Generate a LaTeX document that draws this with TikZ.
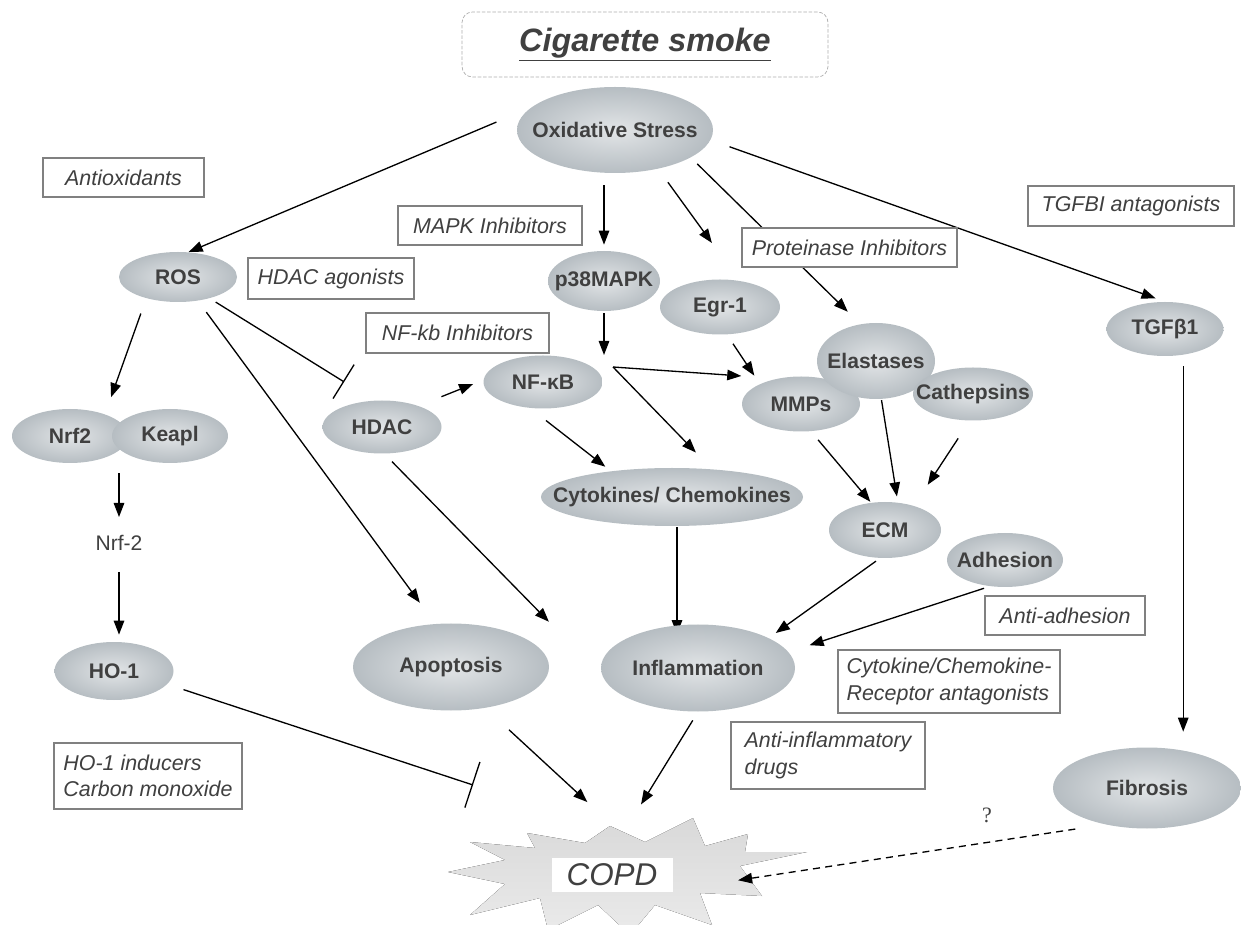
\documentclass[tikz,border=0pt]{standalone}
\usepackage{fontspec}
\setmainfont{Liberation Sans}
\newfontfamily\qfont{Liberation Serif}
\usetikzlibrary{arrows.meta,shapes.geometric,backgrounds}
\definecolor{molgrey}{RGB}{182,189,194}
\definecolor{mollight}{RGB}{226,229,231}
\definecolor{txtgrey}{RGB}{64,64,64}
\definecolor{boxline}{RGB}{128,128,128}
\tikzset{>={Triangle[length=8pt,width=6pt]}}
\tikzset{
  mol/.style={ellipse,inner sep=0pt,inner color=mollight,outer color=molgrey,
    font=\fontsize{12}{14}\selectfont\bfseries,text=txtgrey,
    execute at begin node={\hbox to 0pt\bgroup\hss},
    execute at end node={\hss\egroup}},
  sz/.style 2 args={minimum width=#1*0.02cm,minimum height=#2*0.02cm},
  drug/.style={draw=boxline,line width=0.6pt,fill=white,inner sep=0pt,
    font=\fontsize{12.2}{15}\selectfont\itshape,text=txtgrey,align=left},
  link/.style={line width=0.75pt,->},
  block/.style={line width=0.75pt,-{Bar[width=#1]}}
}
\begin{document}
\begin{tikzpicture}[x=0.02cm,y=-0.02cm]
\useasboundingbox (0,0) rectangle (1241,925);

% source
\node[draw=gray!65,dash pattern=on 2pt off 1pt,rounded corners=6pt,sz={366}{65},
  font=\fontsize{18.4}{22}\selectfont\bfseries\itshape,text=txtgrey] (smoke) at (645,44.5) {\underline{Cigarette smoke}};
\node[mol,sz={196}{86}] (ox) at (615,130) {Oxidative Stress};

% molecules
\node[mol,sz={118}{50}] (ros) at (178,277) {ROS};
\node[mol,sz={112}{60}] (p38) at (604,281) {p38MAPK};
\node[mol,sz={120}{55}] (egr) at (720,307) {Egr-1};
\node[mol,sz={117}{54}] (tgf) at (1165,329) {TGFβ1};
\node[mol,sz={119}{53}] (nfkb) at (543,382) {NF-κB};
\node[mol,sz={118}{55}] (mmp) at (801,404) {MMPs};
\node[mol,sz={118}{76}] (ela) at (876,361) {Elastases};
\node[mol,sz={120}{53}] (cat) at (973,394) {Cathepsins};
\node[mol,sz={116}{54}] (nrf) at (70,436) {Nrf2};
\node[mol,sz={116}{54}] (keap) at (170,436) {Keapl};
\node[mol,sz={119}{53}] (hdac) at (382,427) {HDAC};
\node[mol,sz={262}{58}] (cyto) at (672,497) {Cytokines/ Chemokines};
\node[mol,sz={112}{56}] (ecm) at (885,530) {ECM};
\node[mol,sz={116}{54}] (adh) at (1005,560) {Adhesion};
\node[font=\fontsize{12}{14}\selectfont,text=txtgrey,inner sep=0pt] (nrftxt) at (119,543) {Nrf-2};
\node[mol,sz={119}{58}] (ho) at (114,671) {HO-1};
\node[mol,sz={196}{87}] (apo) at (451,667) {Apoptosis};
\node[mol,sz={194}{87}] (inf) at (698,668) {Inflammation};
\node[mol,sz={188}{81}] (fib) at (1147,788) {Fibrosis};

% drugs
\node[drug,sz={161}{39}] (antiox) at (123.5,177.5) {Antioxidants};
\node[drug,sz={184}{39}] (mapkinh) at (490,225.5) {MAPK Inhibitors};
\node[drug,sz={206}{40}] (tgfant) at (1131,206) {TGFBI antagonists};
\node[drug,sz={215}{39}] (protinh) at (849.5,247.5) {Proteinase Inhibitors};
\node[drug,sz={166}{41}] (hdacag) at (331,278.5) {HDAC agonists};
\node[drug,sz={183}{40}] (nfkbinh) at (457.5,333) {NF-kb Inhibitors};
\node[drug,sz={160}{39}] (antiadh) at (1065,615.5) {Anti-adhesion};
\node[drug,sz={222}{63}] (cytant) at (949,681.5) {Cytokine/Chemokine-\\Receptor antagonists};
\node[drug,sz={194}{67}] (antiinf) at (828,755.5) {Anti-inflammatory\\drugs};
\node[drug,sz={188}{66}] (hoind) at (148,776) {HO-1 inducers\\Carbon monoxide};

% outcome
\node[fill=white,sz={121}{34},inner sep=0pt,font=\fontsize{17.9}{20}\selectfont\itshape,text=txtgrey] (copd) at (612,875) {COPD};
\node[font=\qfont\fontsize{12.5}{14}\selectfont,text=txtgrey] (qm) at (987,815) {?};

\coordinate (jn) at (613,367);
\coordinate (hoend) at (473,785);

\begin{scope}[on background layer]
\fill[top color=gray!30,middle color=gray!8,bottom color=gray!16]
  (807,852) -- (740,866) -- (762,896) -- (700,893) -- (712,925) -- (655,905)
  -- (630,935) -- (598,905) -- (548,930) -- (540,898) -- (470,915) -- (505,884)
  -- (448,872) -- (505,860) -- (470,842) -- (535,848) -- (527,833) -- (585,843)
  -- (610,826) -- (645,842) -- (693,818) -- (705,846) -- (748,834) -- (745,852) -- cycle;

\draw[link,shorten <=7.5mm] (ox.165) -- (ros.67);
\draw[link,shorten <=2.4mm,shorten >=1.2mm] (ox.south -| p38) -- (p38.north);
\draw[link,shorten <=3.3mm,shorten >=9.3mm] (ox.-42) -- (egr.54);
\draw[link,shorten <=1.8mm,shorten >=3.5mm] (ox.-20) -- (ela.113);
\draw[link,shorten <=4mm,shorten >=2mm] (ox.-6) -- (tgf.north);
\draw[link,shorten <=3.2mm,shorten >=3.6mm] (ros.-146) -- (nrf.32);
\draw[link,shorten <=2.8mm,shorten >=5.2mm] (ros.-50) -- (apo.110);
\draw[block=8mm,shorten <=1.4mm,shorten >=7mm] (ros.-34) -- (hdac.107);
\draw[link,shorten <=2mm,shorten >=3.6mm] (nrftxt |- keap.south) -- (nrftxt.north);
\draw[link,shorten <=4.2mm,shorten >=1.4mm] (nrftxt.south) -- (nrftxt.south |- ho.north);
\draw[block=9.6mm,shorten <=3.4mm] (ho.-14) -- (hoend);
\draw[link,shorten <=0.4mm,shorten >=2.4mm] (p38.south) -- (p38.south |- jn);
\draw[link,shorten <=4.9mm,shorten >=2.2mm] (hdac.30) -- (nfkb.178);
\draw[link,shorten >=7.2mm] (jn) -- (mmp.133);
\draw[link,shorten >=4.6mm] (jn) -- (cyto.35);
\draw[link,shorten <=4mm,shorten >=1.4mm] (nfkb.-116) -- (cyto.157);
\draw[link,shorten <=2.2mm,shorten >=2mm] (egr.-76) -- (mmp.154);
\draw[link,shorten <=2.2mm,shorten >=0.2mm] (mmp.-70) -- (ecm.117);
\draw[link,shorten <=0.2mm,shorten >=1.2mm] (ela.-82) -- (ecm.65);
\draw[link,shorten <=4.2mm,shorten >=5mm] (cat.-97) -- (ecm.40);
\draw[link,shorten <=2.2mm,shorten >=15.3mm] (hdac.-85) -- (inf.185);
\draw[link,shorten <=0.2mm,shorten >=-2mm] ([xshift=0.1cm]cyto.south) -- ([xshift=0.1cm]cyto.south |- inf.north);
\draw[link,shorten <=1mm,shorten >=1.7mm] (ecm.-100) -- (inf.23);
\draw[link,shorten <=1.2mm,shorten >=4.4mm] (adh.-120) -- (inf.10);
\draw[link,shorten <=6.4mm,shorten >=16.4mm] (apo.-50) -- (copd.26);
\draw[link,shorten <=2mm,shorten >=12.5mm] (inf.south) -- (copd.102);
\draw[link,shorten <=2.2mm,shorten >=3.1mm] (tgf.-55) -- (tgf.-55 |- fib.north);
\draw[link,dash pattern=on 4pt off 3pt,shorten <=6mm,shorten >=13.2mm] (fib.-139) -- (copd.-14);
\end{scope}
\end{tikzpicture}
\end{document}
